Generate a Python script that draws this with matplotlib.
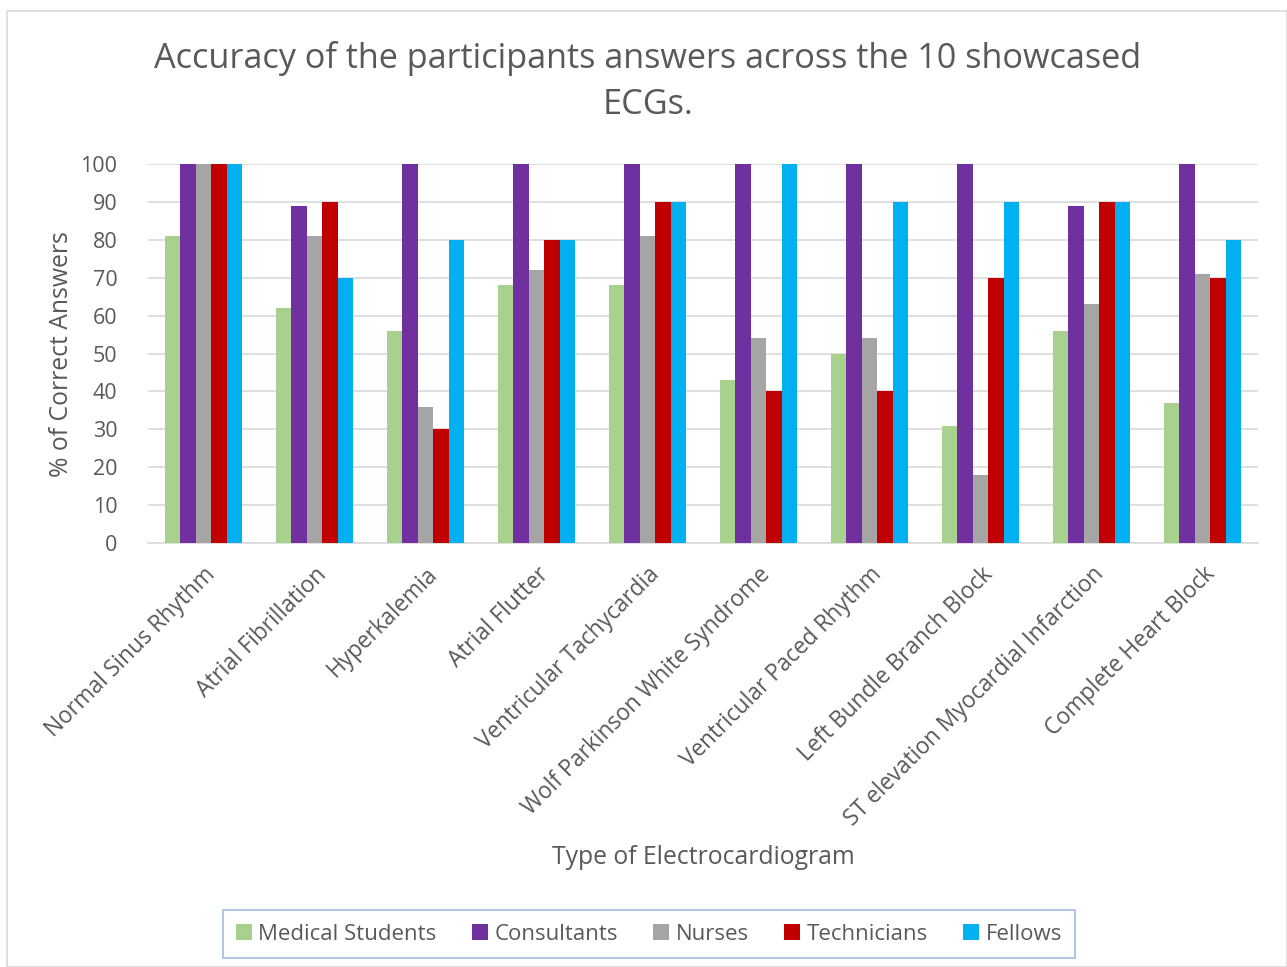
import matplotlib
matplotlib.use("Agg")
import matplotlib.pyplot as plt
import numpy as np
from matplotlib.patches import Rectangle

categories = ["Normal Sinus Rhythm", "Atrial Fibrillation", "Hyperkalemia", "Atrial Flutter",
              "Ventricular Tachycardia", "Wolf Parkinson White Syndrome", "Ventricular Paced Rhythm",
              "Left Bundle Branch Block", "ST elevation Myocardial Infarction", "Complete Heart Block"]
medical_students = [81, 62, 56, 68, 68, 43, 50, 31, 56, 37]
consultants = [100, 89, 100, 100, 100, 100, 100, 100, 89, 100]
nurses = [100, 81, 36, 72, 81, 54, 54, 18, 63, 71]
technicians = [100, 90, 30, 80, 90, 40, 40, 70, 90, 70]
fellows = [100, 70, 80, 80, 90, 100, 90, 90, 90, 80]

series = [("Medical Students", medical_students, "#A9D18E"),
          ("Consultants", consultants, "#7030A0"),
          ("Nurses", nurses, "#A5A5A5"),
          ("Technicians", technicians, "#C00000"),
          ("Fellows", fellows, "#00B0F0")]

plt.rcParams['font.family'] = ['Open Sans', 'DejaVu Sans']
W, H = 1287, 967
fig = plt.figure(figsize=(W/100, H/100), dpi=100)

# chart frame
fig.patches.append(Rectangle((7/W, 0), 1 - 7/W, 1 - 11/H, transform=fig.transFigure,
                             fill=False, edgecolor="#D9D9D9", linewidth=1.2))

ax = fig.add_axes([148/W, (H-543)/H, (1258-148)/W, (543-164)/H])
x = np.arange(len(categories))
bw = 0.14
for i, (name, vals, col) in enumerate(series):
    ax.bar(x + (i - 2) * bw, vals, width=bw, color=col, label=name, zorder=3)

ax.set_xlim(-0.5, len(categories) - 0.5)
ax.set_ylim(0, 100)
ax.set_yticks(range(0, 101, 10))
ax.yaxis.grid(True, color="#D9D9D9", linewidth=1.2, zorder=0)
for s in ["top", "right", "left"]:
    ax.spines[s].set_visible(False)
ax.spines["bottom"].set_color("#D9D9D9")
ax.spines["bottom"].set_linewidth(1.2)
ax.tick_params(axis="both", length=0, colors="#595959", labelsize=15.5)
ax.tick_params(axis="y", pad=22)
ax.set_xticks(x)
ax.set_xticklabels(categories, rotation=45, ha="right", rotation_mode="anchor", fontsize=16.3, color="#595959")
ax.tick_params(axis="x", pad=14)

fig.text(648/W, 1 - 58/H, "Accuracy of the participants answers across the 10 showcased",
         ha="center", va="center", fontsize=24.7, color="#595959")
fig.text(648/W, 1 - 105/H, "ECGs.", ha="center", va="center", fontsize=24.7, color="#595959")
fig.text(62/W, 1 - 354/H, "% of Correct Answers", rotation=90, ha="center", va="center",
         fontsize=17.8, color="#595959")
fig.text(703/W, 1 - 858/H, "Type of Electrocardiogram", ha="center", va="center",
         fontsize=17.8, color="#595959")

leg = fig.legend(loc="center", bbox_to_anchor=(649/W, 1 - 934/H), ncol=5, frameon=True,
                 fontsize=16, handlelength=0.7, handleheight=0.7, handletextpad=0.3,
                 columnspacing=1.6, fancybox=False, borderpad=0.6, borderaxespad=0)
leg.get_frame().set_edgecolor("#8FAADC")
leg.get_frame().set_linewidth(1.2)
for t in leg.get_texts():
    t.set_color("#595959")

fig.savefig("out.png", dpi=100)
